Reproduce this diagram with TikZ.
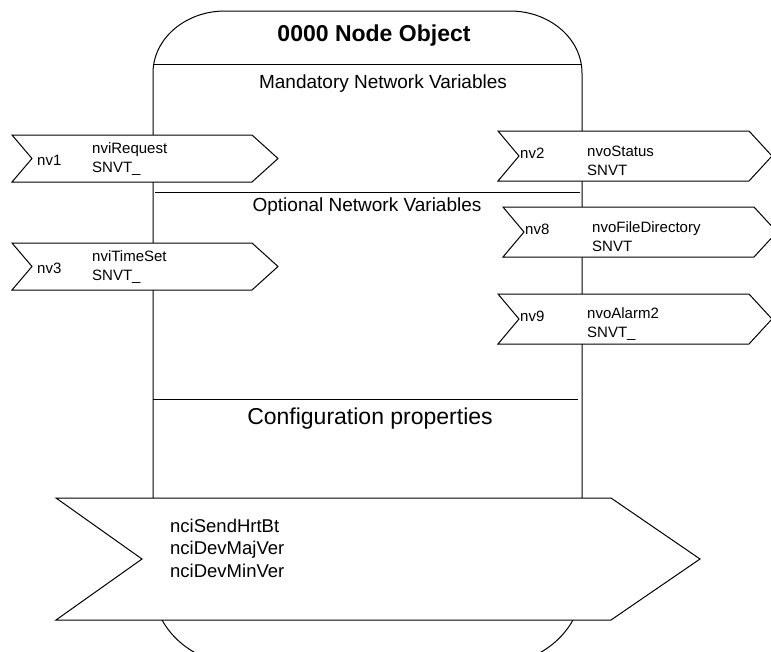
\documentclass[tikz,border=0pt]{standalone}
\usepackage{fontspec}
\setmainfont{Liberation Sans}

\tikzset{
  chev/.style={draw, fill=white, line width=1pt},
  sepline/.style={line width=1pt},
  lbl/.style={inner sep=0pt, font=\fontsize{15}{19}\selectfont},
  head/.style={inner sep=0pt, font=\fontsize{19}{23}\selectfont},
}

\begin{document}
\begin{tikzpicture}[x=1pt,y=-1pt]

    \clip (0,0) rectangle (771,651);
    \fill[white] (0,0) rectangle (771,651);

    % object outline
    \draw[line width=1pt] (153,585) -- (153,73)
        arc[start angle=180, end angle=270, x radius=72, y radius=62] -- (510,11)
        arc[start angle=270, end angle=360, x radius=72, y radius=62] -- (582,585)
        arc[start angle=0, end angle=90, x radius=90, y radius=80] -- (243,665)
        arc[start angle=90, end angle=180, x radius=90, y radius=80] -- cycle;

    \node[inner sep=0pt, font=\fontsize{23}{27}\selectfont\bfseries] (title) at (374,36) {0000 Node Object};
    \draw[sepline] (153,64) -- (582,64);
    \node[head] (mandatory) at (383,84) {Mandatory Network Variables};
    \draw[sepline] (155,192) -- (580,192);
    \node[head] (optional) at (367,207) {Optional Network Variables};
    \draw[sepline] (153,399) -- (578,399);
    \node[inner sep=0pt, font=\fontsize{23}{27}\selectfont] (config) at (370,419) {Configuration properties};

    \foreach \n/\t/\nm/\ty in {nv1/135/nviRequest/SNVT\_, nv3/243/nviTimeSet/SNVT\_} {
        \draw[chev] (12,\t) -- (252,\t) -- (278,\t+23.5) -- (252,\t+47) -- (12,\t+47) -- (32,\t+23.5) -- cycle;
        \node[lbl, anchor=west] (\n) at (37,\t+25) {\n};
        \node[lbl, anchor=west, align=left] (\n-var) at (92,\t+24) {\nm\\\ty};
    }

    \foreach \n/\t/\dx/\nm/\ty in {nv2/131/0/nvoStatus/SNVT, nv8/207/5/nvoFileDirectory/SNVT, nv9/294/0/nvoAlarm2/SNVT\_} {
        \draw[chev] (498+\dx,\t) -- (749+\dx,\t) -- (772+\dx,\t+25) -- (749+\dx,\t+50) -- (498+\dx,\t+50) -- (519+\dx,\t+25) -- cycle;
        \node[lbl, anchor=west] (\n) at (520+\dx,\t+22) {\n};
        \node[lbl, anchor=west, align=left] (\n-var) at (587+\dx,\t+30) {\nm\\\ty};
    }

    \draw[chev] (56,498) -- (611,498) -- (700,559) -- (611,620) -- (56,620) -- (142,559) -- cycle;
    \node[inner sep=0pt, anchor=west, align=left, font=\fontsize{18.5}{22.5}\selectfont] (cfgvars) at (170,548)
        {nciSendHrtBt\\nciDevMajVer\\nciDevMinVer};

\end{tikzpicture}
\end{document}
